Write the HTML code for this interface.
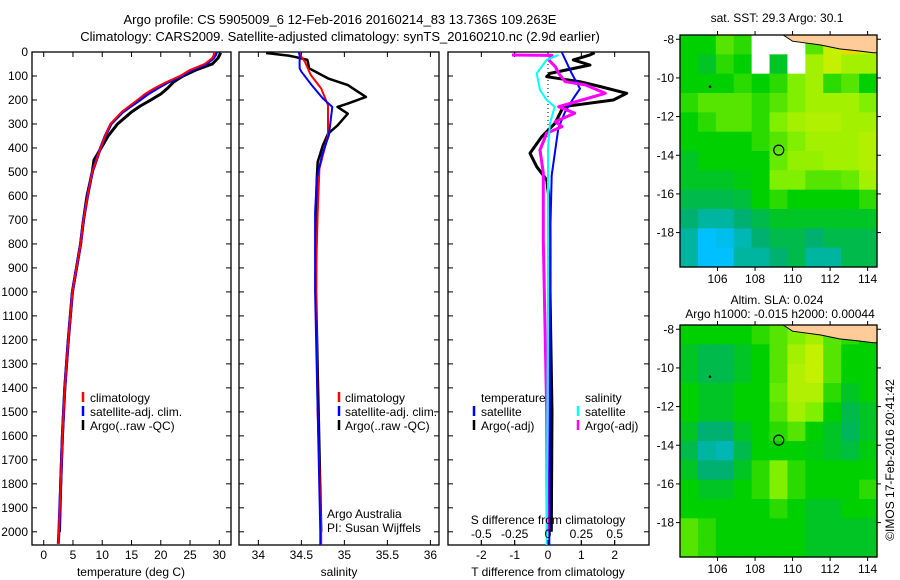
<!DOCTYPE html>
<html><head><meta charset="utf-8"><style>
html,body{margin:0;padding:0;background:#fff;}
svg{display:block;font-family:"Liberation Sans",sans-serif;}
text{font-size:12px;fill:#000;}
</style></head><body>
<svg id="fig" width="900" height="580" viewBox="0 0 900 580" xmlns="http://www.w3.org/2000/svg">
<text x="340" y="24" text-anchor="middle" style="font-size:13px">Argo profile: CS 5905009_6 12-Feb-2016 20160214_83 13.736S 109.263E</text>
<text x="340" y="41" text-anchor="middle" style="font-size:13px">Climatology: CARS2009. Satellite-adjusted climatology: synTS_20160210.nc (2.9d earlier)</text>
<text x="777" y="22" text-anchor="middle">sat. SST: 29.3 Argo: 30.1</text>
<text x="777" y="304" text-anchor="middle">Altim. SLA: 0.024</text>
<text x="780" y="318" text-anchor="middle">Argo h1000: -0.015 h2000: 0.00044</text>
<text transform="translate(894,460) rotate(-90)" text-anchor="middle">©IMOS 17-Feb-2016 20:41:42</text>
</svg>
<script>
// ---- data ----
const depthTicks=[0,100,200,300,400,500,600,700,800,900,1000,1100,1200,1300,1400,1500,1600,1700,1800,1900,2000];
const tempTicks=[0,5,10,15,20,25,30];
const salTicks=[34,34.5,35,35.5,36];
const tdTicks=[-2,-1,0,1,2];
const sdTicks=[-0.5,-0.25,0,0.25,0.5];

const climTDepth=[0,10,25,50,75,100,125,150,175,200,250,300,350,400,450,500,600,700,800,900,1000,1200,1400,1600,1800,2000,2050];
const climT=[29.1,29.1,28.8,27.5,25,23.3,21,19,17.3,16,13.3,11.4,10.5,9.7,9,8.3,7.5,6.8,6.3,5.6,4.9,4.2,3.6,3.2,2.9,2.6,2.5];
const satT=[29.5,29.4,29,27.8,25.3,23.5,21.3,19.5,17.8,16.4,13.5,11.5,10.5,9.7,9,8.3,7.5,6.8,6.3,5.6,4.9,4.2,3.6,3.2,2.9,2.6,2.5];
const argoTDepth=[3,10,25,50,75,100,125,150,175,200,225,250,275,300,350,400,450,500,600,700,800,900,1000,1200,1400,1600,1800,2000];
const argoT=[30.2,30.1,29.8,28.8,26,23.8,22.2,21.2,20,18.3,16.5,15,13.8,12.6,11,9.8,8.6,8.3,7.4,6.8,6.3,5.6,4.9,4.2,3.6,3.2,2.9,2.7];

const climSDepth=[0,20,40,96,152,222,347,403,486,667,806,1000,1500,2000,2055];
const climS=[34.47,34.5,34.54,34.61,34.73,34.81,34.81,34.77,34.71,34.69,34.68,34.67,34.69,34.73,34.73];
const satSDepth=[0,13,68,82,138,194,229,347,430,528,667,1000,1500,2000,2055];
const satS=[34.47,34.48,34.48,34.5,34.62,34.75,34.86,34.82,34.74,34.68,34.66,34.66,34.69,34.72,34.72];
const argoSDepth=[4,15,20,33,68,110,138,187,215,229,257,306,341,389,458,528,667,806,1000,1500,2000];
const argoS=[34.09,34.35,34.42,34.57,34.59,34.81,35.04,35.25,35.04,34.92,35.04,34.92,34.81,34.75,34.69,34.68,34.67,34.67,34.67,34.70,34.73];

const satTdDepth=[0,89,153,194,250,319,417,514,800,1500,2055];
const satTd=[0.41,0.71,0.96,0.76,0.51,0.31,0.21,0.11,0.06,0.05,0.04];
const argoTdDepth=[3,12,33,54,89,103,124,144,172,200,228,297,353,422,478,533,644,1000,1500,2000];
const argoTd=[1.4,1.26,0.76,1.26,0.06,-0.04,0.96,1.56,2.36,1.96,0.46,0.21,-0.19,-0.54,-0.34,-0.04,0.06,0.06,0.12,0.1];
const satSdDepth=[12,33,89,158,200,228,297,400,1000,2055];
const satSd=[0.078,-0.01,-0.085,-0.06,-0.01,0.05,0.015,0,0,-0.01];
const argoSdDepth=[12.5,14,33,61,89,124,137,172,200,228,255,290,311,339,408,505,783,1500,2000];
const argoSd=[-0.27,0.03,0.005,0.055,0.08,0.13,0.28,0.43,0.255,0.08,0.2,0.055,0.105,-0.01,-0.06,-0.035,-0.035,-0.01,-0.005];

const lonTicks=[106,108,110,112,114];
const latTicks=[-8,-10,-12,-14,-16,-18];
const sstGrid=[
[.5,.5,.6,.55,-1,-1,-1,.6,.75,.85,.75],
[.5,.45,.55,.5,-1,.45,-1,.7,.75,.7,.7],
[.5,.5,.5,.55,.5,.55,.65,.7,.55,.6,.5],
[.55,.6,.6,.6,.55,.6,.65,.7,.7,.7,.65],
[.5,.55,.6,.6,.55,.65,.7,.72,.72,.7,.7],
[.5,.5,.5,.5,.55,.6,.65,.7,.7,.7,.72],
[.45,.5,.5,.5,.5,.62,.68,.68,.7,.7,.72],
[.45,.45,.45,.48,.5,.65,.65,.6,.6,.62,.7],
[.4,.4,.4,.42,.5,.55,.5,.5,.5,.5,.55],
[.35,.3,.3,.35,.4,.45,.45,.45,.45,.45,.45],
[.3,.2,.22,.28,.35,.4,.4,.35,.4,.4,.4],
[.3,.2,.2,.3,.3,.35,.4,.3,.3,.4,.4]];
const slaGrid=[
[.5,.5,.5,.5,.55,.6,.65,.7,.6,.55,.5],
[.45,.4,.4,.45,.5,.6,.7,.75,.6,.5,.5],
[.45,.4,.4,.45,.5,.6,.72,.75,.6,.5,.5],
[.5,.45,.45,.5,.5,.62,.72,.72,.55,.45,.5],
[.5,.45,.45,.5,.5,.6,.7,.65,.5,.4,.45],
[.45,.35,.35,.45,.5,.55,.6,.5,.45,.38,.45],
[.4,.3,.28,.4,.5,.5,.5,.48,.45,.42,.48],
[.45,.35,.35,.45,.55,.65,.55,.5,.5,.5,.5],
[.5,.45,.45,.5,.55,.65,.55,.5,.5,.5,.55],
[.5,.5,.5,.5,.5,.55,.5,.45,.45,.5,.5],
[.6,.55,.5,.5,.5,.5,.5,.45,.45,.45,.45],
[.6,.55,.5,.5,.5,.5,.5,.45,.45,.45,.45]];
const floatLon=109.263, floatLat=-13.736;

// ---- helpers ----
const svg=document.getElementById('fig');
const NS='http://www.w3.org/2000/svg';
function mk(tag,attrs){const e=document.createElementNS(NS,tag);for(const k in attrs)e.setAttribute(k,attrs[k]);svg.appendChild(e);return e;}
const T0=52,DB=545;
const yD=d=>T0+(DB-T0)*d/2055;
function lin(d0,d1,p0,p1){return v=>p0+(v-d0)*(p1-p0)/(d1-d0);}
const P1={l:32,r:231}, P2={l:239,r:439}, P3={l:448,r:649};
const xT=lin(-2,32,P1.l,P1.r);
const xS=lin(33.775,36.1,P2.l,P2.r);
const xTd=lin(-3,3.03,P3.l,P3.r);
const xSd=v=>xTd(v*4);

function line(xs,ds,fx,color,w,name){
  const pts=xs.map((v,i)=>fx(v).toFixed(1)+','+yD(ds[i]).toFixed(1)).join(' ');
  const e=mk('polyline',{points:pts,fill:'none',stroke:color,'stroke-width':w,'stroke-linejoin':'round'});
  
  
}
function frame(p,name){
  const e=mk('rect',{x:p.l,y:T0,width:p.r-p.l,height:DB-T0,fill:'none',stroke:'#000','stroke-width':1.3});
  
  
  depthTicks.forEach(d=>{
    mk('line',{x1:p.l,x2:p.l+5,y1:yD(d),y2:yD(d),stroke:'#000'});
    mk('line',{x1:p.r-5,x2:p.r,y1:yD(d),y2:yD(d),stroke:'#000'});
  });
}
function xticks(ticks,fx,name,lblY,showTop){
  ticks.forEach(v=>{
    const x=fx(v);
    mk('line',{x1:x,x2:x,y1:DB-5,y2:DB,stroke:'#000'});
    if(showTop) mk('line',{x1:x,x2:x,y1:T0,y2:T0+5,stroke:'#000'});
    const t=mk('text',{x:x,y:lblY,'text-anchor':'middle'});t.textContent=String(v);
    
    
  });
}
function txt(x,y,s,name,anchor){const t=mk('text',{x:x,y:y,'text-anchor':anchor||'start'});t.textContent=s;
  
  return t;}
function legendBar(x,y,color,name){const e=mk('line',{x1:x,x2:x,y1:y-10,y2:y,stroke:color,'stroke-width':2.5});
  
  }

// ---- panel 1: temperature ----
frame(P1,'temperature-panel');
depthTicks.forEach(d=>{const t=txt(28,yD(d)+4,String(d),'depth-tick-label','end');});
xticks(tempTicks,xT,'temperature-tick-label',559,true);
txt(131,576,'temperature (deg C)','temperature-axis-title','middle');
line(argoT,argoTDepth,xT,'#000',3,'argo-temperature-line');
line(satT,climTDepth,xT,'#00f',3,'satellite-temperature-line');
line(climT,climTDepth,xT,'#f00',2,'climatology-temperature-line');
legendBar(83,402,'#f00','legend-climatology-swatch');txt(90,402,'climatology','legend-climatology');
legendBar(83,416,'#00f','legend-satellite-swatch');txt(90,416,'satellite-adj. clim.','legend-satellite');
legendBar(83,430,'#000','legend-argo-swatch');txt(90,430,'Argo(..raw -QC)','legend-argo');

// ---- panel 2: salinity ----
frame(P2,'salinity-panel');
xticks(salTicks,xS,'salinity-tick-label',559,true);
txt(339,576,'salinity','salinity-axis-title','middle');
line(argoS,argoSDepth,xS,'#000',2.5,'argo-salinity-line');
line(climS,climSDepth,xS,'#f00',2,'climatology-salinity-line');
line(satS,satSDepth,xS,'#00f',2,'satellite-salinity-line');
legendBar(339,402,'#f00','legend-climatology-swatch');txt(345,402,'climatology','legend-climatology');
legendBar(339,416,'#00f','legend-satellite-swatch');txt(345,416,'satellite-adj. clim.','legend-satellite');
legendBar(339,430,'#000','legend-argo-swatch');txt(345,430,'Argo(..raw -QC)','legend-argo');
txt(327,518,'Argo Australia','data-source-label');
txt(327,532,'PI: Susan Wijffels','pi-label');

// ---- panel 3: differences ----
frame(P3,'difference-panel');
xticks(tdTicks,xTd,'t-diff-tick-label',559,false);
sdTicks.forEach(v=>{const x=xSd(v);mk('line',{x1:x,x2:x,y1:T0,y2:T0+5,stroke:'#000'});});
txt(548,576,'T difference from climatology','t-diff-axis-title','middle');
mk('line',{x1:xTd(0),x2:xTd(0),y1:T0,y2:yD(520),stroke:'#000','stroke-dasharray':'1,3'});
line(argoTd,argoTdDepth,xTd,'#000',3,'argo-t-diff-line');
line(satTd,satTdDepth,xTd,'#00f',2,'satellite-t-diff-line');
line(argoSd,argoSdDepth,xSd,'#f0f',3,'argo-s-diff-line');
line(satSd,satSdDepth,xSd,'#0ff',2,'satellite-s-diff-line');
txt(548,524,'S difference from climatology','s-diff-axis-title','middle');
sdTicks.forEach(v=>{txt(xSd(v),538,String(v),'s-diff-tick-label','middle');
  mk('line',{x1:xSd(v),x2:xSd(v),y1:DB-5,y2:DB,stroke:'#000'});});
txt(481,402,'temperature','legend-temperature-header');
txt(585,402,'salinity','legend-salinity-header');
legendBar(474,416,'#00f','legend-t-satellite-swatch');txt(481,416,'satellite','legend-t-satellite');
legendBar(474,430,'#000','legend-t-argo-swatch');txt(481,430,'Argo(-adj)','legend-t-argo');
legendBar(578,416,'#0ff','legend-s-satellite-swatch');txt(585,416,'satellite','legend-s-satellite');
legendBar(578,430,'#f0f','legend-s-argo-swatch');txt(585,430,'Argo(-adj)','legend-s-argo');

// ---- maps ----
const stops=[[0,[0,96,255]],[0.2,[0,192,255]],[0.35,[0,176,112]],[0.5,[0,208,0]],[0.65,[128,240,0]],[0.8,[232,240,0]],[1,[240,144,0]]];
function cmap(v){if(v<0)return '#fff';for(let i=1;i<stops.length;i++){if(v<=stops[i][0]){const a=stops[i-1],b=stops[i];const t=(v-a[0])/(b[0]-a[0]);
  return 'rgb('+a[1].map((c,k)=>Math.round(c+(b[1][k]-c)*t)).join(',')+')';}}return 'rgb(240,144,0)';}
function drawMap(grid,top,name){
  const L=680,R=877,B=top+232;
  const xL=lin(104.0,114.5,L,R), yL=lin(-7.78,-19.78,top,B);
  const rows=grid.length, cols=grid[0].length, cw=(R-L)/cols, ch=(B-top)/rows;
  grid.forEach((row,r)=>row.forEach((v,c)=>{
    const e=mk('rect',{x:(L+c*cw).toFixed(2),y:(top+r*ch).toFixed(2),width:(cw+0.6).toFixed(2),height:(ch+0.6).toFixed(2),fill:cmap(v)});
    
    
  }));
  const land=mk('polygon',{points:[[109.5,-7.78],[110,-8.1],[111.5,-8.3],[112.5,-8.5],[113.5,-8.6],[114.3,-8.7],[114.5,-8.7],[114.5,-7.78]].map(p=>xL(p[0])+','+yL(p[1])).join(' '),fill:'#ffcc99',stroke:'#000','stroke-width':1});
  
  
  const c=mk('circle',{cx:xL(floatLon),cy:yL(floatLat),r:5,fill:'none',stroke:'#000','stroke-width':1.2});
  
  
  mk('circle',{cx:xL(105.6),cy:yL(-10.45),r:1.3,fill:'#000'});
  const fr=mk('rect',{x:L,y:top,width:R-L,height:B-top,fill:'none',stroke:'#000','stroke-width':1.3});
  
  
  lonTicks.forEach(v=>{const x=xL(v);mk('line',{x1:x,x2:x,y1:top-4,y2:top,stroke:'#000'});mk('line',{x1:x,x2:x,y1:B,y2:B+4,stroke:'#000'});
    txt(x,B+16,String(v),name+'-lon-label','middle');});
  latTicks.forEach(v=>{const y=yL(v);mk('line',{x1:L-4,x2:L,y1:y,y2:y,stroke:'#000'});mk('line',{x1:R,x2:R+4,y1:y,y2:y,stroke:'#000'});
    txt(L-6,y+4,String(v),name+'-lat-label','end');});
}
drawMap(sstGrid,35,'sst-map');
drawMap(slaGrid,325,'sla-map');
</script>
</body></html>
